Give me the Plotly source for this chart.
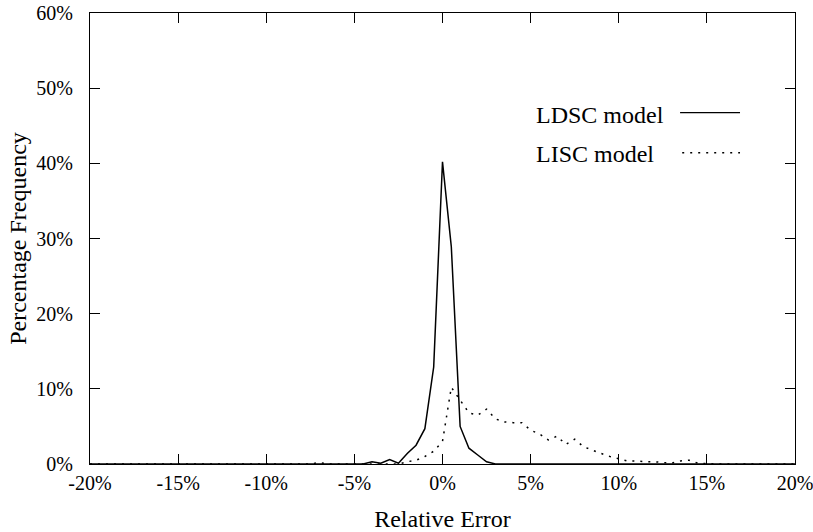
import plotly.graph_objects as go

# relative error bins (%), 0.5% steps
rel_error = [x * 0.5 for x in range(-40, 41)]

# percentage frequency for each bin
ldsc_nonzero = {
    -4.0: 0.3, -3.5: 0.1, -3.0: 0.6, -2.5: 0.1, -2.0: 1.4, -1.5: 2.5,
    -1.0: 4.7, -0.5: 12.9, 0.0: 40.2, 0.5: 28.9, 1.0: 5.0, 1.5: 2.1,
    2.0: 1.2, 2.5: 0.3,
}
lisc_nonzero = {
    -7.0: 0.2, -2.0: 0.3, -1.5: 0.5, -1.0: 1.0, -0.5: 1.7, 0.0: 3.0,
    0.5: 10.2, 1.0: 8.5, 1.5: 6.8, 2.0: 6.5, 2.5: 7.3, 3.0: 6.0,
    3.5: 5.6, 4.0: 5.5, 4.5: 5.5, 5.0: 4.5, 5.5: 4.0, 6.0: 3.2,
    6.5: 3.7, 7.0: 2.6, 7.5: 3.3, 8.0: 2.3, 8.5: 1.8, 9.0: 1.4,
    9.5: 1.0, 10.0: 0.7, 10.5: 0.4, 11.0: 0.4, 11.5: 0.3, 12.0: 0.3,
    12.5: 0.2, 13.0: 0.1, 13.5: 0.4, 14.0: 0.5, 14.5: 0.1,
}
ldsc_freq = [ldsc_nonzero.get(x, 0.0) for x in rel_error]
lisc_freq = [lisc_nonzero.get(x, 0.0) for x in rel_error]

x_ticks = [-20, -15, -10, -5, 0, 5, 10, 15, 20]
x_labels = ["-20%", "-15%", "-10%", "-5%", "0%", "5%", "10%", "15%", "20%"]
y_ticks = [0, 10, 20, 30, 40, 50, 60]
y_labels = ["0%", "10%", "20%", "30%", "40%", "50%", "60%"]

serif = "Liberation Serif"

fig = go.Figure()
fig.add_trace(go.Scatter(x=rel_error, y=ldsc_freq, mode="lines", name="LDSC model",
                         line=dict(color="black", width=1.5)))
fig.add_trace(go.Scatter(x=rel_error, y=lisc_freq, mode="lines", name="LISC model",
                         line=dict(color="black", width=1.5, dash="2px,6px")))

axis_common = dict(
    showgrid=False, zeroline=False, showline=True, linecolor="black", linewidth=1,
    mirror="ticks", ticks="inside", ticklen=10, tickcolor="black", tickwidth=1,
    tickfont=dict(family=serif, size=20, color="black"), automargin=False,
    ticklabeloverflow="allow",
)

fig.update_layout(
    width=813, height=532,
    margin=dict(l=90, r=18, t=13, b=68),
    plot_bgcolor="white", paper_bgcolor="white",
    showlegend=False,
    xaxis=dict(range=[-20, 20], tickvals=x_ticks, ticktext=x_labels, ticklabelstandoff=1,
               title=dict(text="Relative Error", font=dict(family=serif, size=24, color="black"),
                          standoff=23),
               **axis_common),
    yaxis=dict(range=[0, 60], tickvals=y_ticks, ticktext=y_labels, ticklabelstandoff=12,
               title=dict(text="Percentage Frequency", font=dict(family=serif, size=24, color="black"),
                          standoff=2),
               **axis_common),
)

# legend drawn by hand: text on the left, line sample on the right
fig.add_annotation(x=0.630, y=0.774, xref="paper", yref="paper", text="LDSC model",
                   showarrow=False, xanchor="left", yanchor="middle",
                   font=dict(family=serif, size=24, color="black"))
fig.add_annotation(x=0.630, y=0.687, xref="paper", yref="paper", text="LISC model",
                   showarrow=False, xanchor="left", yanchor="middle",
                   font=dict(family=serif, size=24, color="black"))
fig.add_shape(type="line", xref="paper", yref="paper", x0=0.837, x1=0.922, y0=0.779, y1=0.779,
              line=dict(color="black", width=1.3))
fig.add_shape(type="line", xref="paper", yref="paper", x0=0.840, x1=0.922, y0=0.690, y1=0.690,
              line=dict(color="black", width=1.5, dash="2px,6px"))

# page body has a default 8px margin, drop it so the figure sits at the corner
fig.write_html("out.html", config={"displayModeBar": False},
               post_script="document.body.style.margin='0';")
